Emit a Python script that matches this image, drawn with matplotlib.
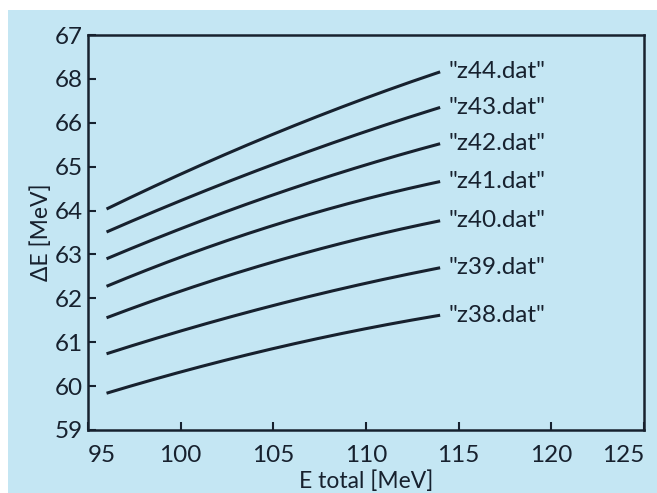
import numpy as np
import matplotlib
matplotlib.use("Agg")
import matplotlib.pyplot as plt
from matplotlib.patches import Rectangle

# Energy loss curves for several nuclear charges
e_total = [96, 100, 105, 110, 114]
series_names = ['"z44.dat"', '"z43.dat"', '"z42.dat"', '"z41.dat"',
                '"z40.dat"', '"z39.dat"', '"z38.dat"']
z44 = [64.02, 64.86, 65.73, 66.55, 67.17]
z43 = [63.52, 64.21, 65.05, 65.82, 66.34]
z42 = [62.90, 63.59, 64.35, 65.05, 65.52]
z41 = [62.27, 62.95, 63.65, 64.27, 64.66]
z40 = [61.55, 62.18, 62.82, 63.39, 63.77]
z39 = [60.73, 61.27, 61.83, 62.34, 62.70]
z38 = [59.84, 60.32, 60.85, 61.32, 61.61]
series_values = [z44, z43, z42, z41, z40, z39, z38]

x_ticks = [95, 100, 105, 110, 115, 120, 125]
y_ticks = [59, 60, 61, 62, 63, 64, 65, 66, 67, 68]
y_tick_labels = ["59", "60", "61", "62", "63", "64", "65", "66", "68", "67"]

bg = "#c4e6f3"
ink = "#17212e"

plt.rcParams["font.family"] = ["Lato", "DejaVu Sans"]

fig = plt.figure(figsize=(6.57, 4.93), dpi=100, facecolor="white")
fig.patches.append(Rectangle((8 / 657, 0), 1, 1 - 10 / 493,
                             transform=fig.transFigure, facecolor=bg,
                             edgecolor="none", zorder=-10))

ax = fig.add_axes([88 / 657, 63 / 493, (644 - 88) / 657, (458 - 63) / 493])
ax.set_facecolor(bg)

xs = np.linspace(e_total[0], e_total[-1], 200)
for name, vals in zip(series_names, series_values):
    coef = np.polyfit(e_total, vals, 2)
    ax.plot(xs, np.polyval(coef, xs), color=ink, lw=2.2, solid_capstyle="butt")
    ax.annotate(name, (e_total[-1], vals[-1]), xytext=(6, 0),
                textcoords="offset points", va="center", ha="left",
                fontsize=17.5, color=ink)

ax.set_xlim(95, 125)
ax.set_ylim(59, 68)
ax.set_xticks(x_ticks)
ax.set_yticks(y_ticks)
ax.set_yticklabels(y_tick_labels)
ax.tick_params(direction="in", length=6, width=1.5, colors=ink,
               labelsize=17.5, top=False, right=False)
ax.tick_params(axis="x", pad=11)
ax.tick_params(axis="y", pad=4)
xlabels = ax.get_xticklabels()
xlabels[0].set_horizontalalignment("left")
xlabels[-1].set_horizontalalignment("right")
for s in ax.spines.values():
    s.set_linewidth(1.8)
    s.set_color(ink)

ax.set_xlabel("E total [MeV]", fontsize=16.5, color=ink, labelpad=3)
ax.set_ylabel("ΔE [MeV]", fontsize=16.5, color=ink, labelpad=2)

fig.savefig("out.png", dpi=100, facecolor="white")
